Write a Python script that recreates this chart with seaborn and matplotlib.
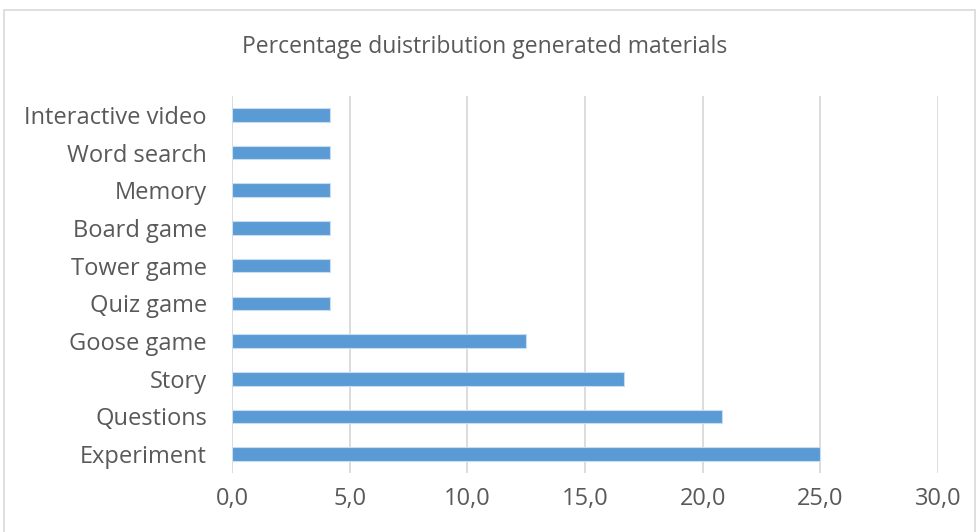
import matplotlib
matplotlib.use("Agg")
import matplotlib.pyplot as plt
from matplotlib.patches import Rectangle
from matplotlib.ticker import FuncFormatter
import seaborn as sns
import pandas as pd

categories = ["Interactive video", "Word search", "Memory", "Board game", "Tower game",
              "Quiz game", "Goose game", "Story", "Questions", "Experiment"]
percentages = [4.17, 4.17, 4.17, 4.17, 4.17, 4.17, 12.5, 16.67, 20.83, 25.0]
x_ticks = [0, 5, 10, 15, 20, 25, 30]
title = "Percentage duistribution generated materials"

sns.set_theme(style="white")
plt.rcParams["font.family"] = ["Open Sans", "DejaVu Sans"]

text_color = "#595959"
grid_color = "#D9D9D9"
bar_color = "#5B9BD5"

W, H = 979, 532
fig = plt.figure(figsize=(W / 100, H / 100), dpi=100)
fig.patch.set_facecolor("white")

# chart-area frame
fig.add_artist(Rectangle((4 / W, -0.05), (975 - 4) / W, 1.05 - 10 / H,
                         transform=fig.transFigure, fill=False,
                         edgecolor=grid_color, linewidth=1.2))

ax = fig.add_axes([232 / W, 1 - 473 / H, (938 - 232) / W, (473 - 96) / H])

df = pd.DataFrame({"category": categories, "pct": percentages})
sns.barplot(data=df, x="pct", y="category", order=categories, orient="h",
            color=bar_color, saturation=1, width=0.36,
            edgecolor="#C9DDF1", linewidth=0.8, ax=ax, zorder=3)

ax.set_xlim(0, 30)
ax.set_xticks(x_ticks)
ax.xaxis.set_major_formatter(FuncFormatter(lambda v, _: f"{v:.1f}".replace(".", ",")))
ax.grid(axis="x", color=grid_color, linewidth=1.3, zorder=0)
ax.grid(axis="y", visible=False)
for s in ax.spines.values():
    s.set_visible(False)
ax.set_xlabel("")
ax.set_ylabel("")
ax.tick_params(axis="x", length=0, pad=10, labelsize=17, labelcolor=text_color)
ax.tick_params(axis="y", length=0, pad=18, labelsize=17, labelcolor=text_color)

fig.text(485 / W, 1 - 47 / H, title, ha="center", va="center",
         fontsize=16.5, color=text_color)

fig.savefig("out.png", dpi=100, facecolor="white")
